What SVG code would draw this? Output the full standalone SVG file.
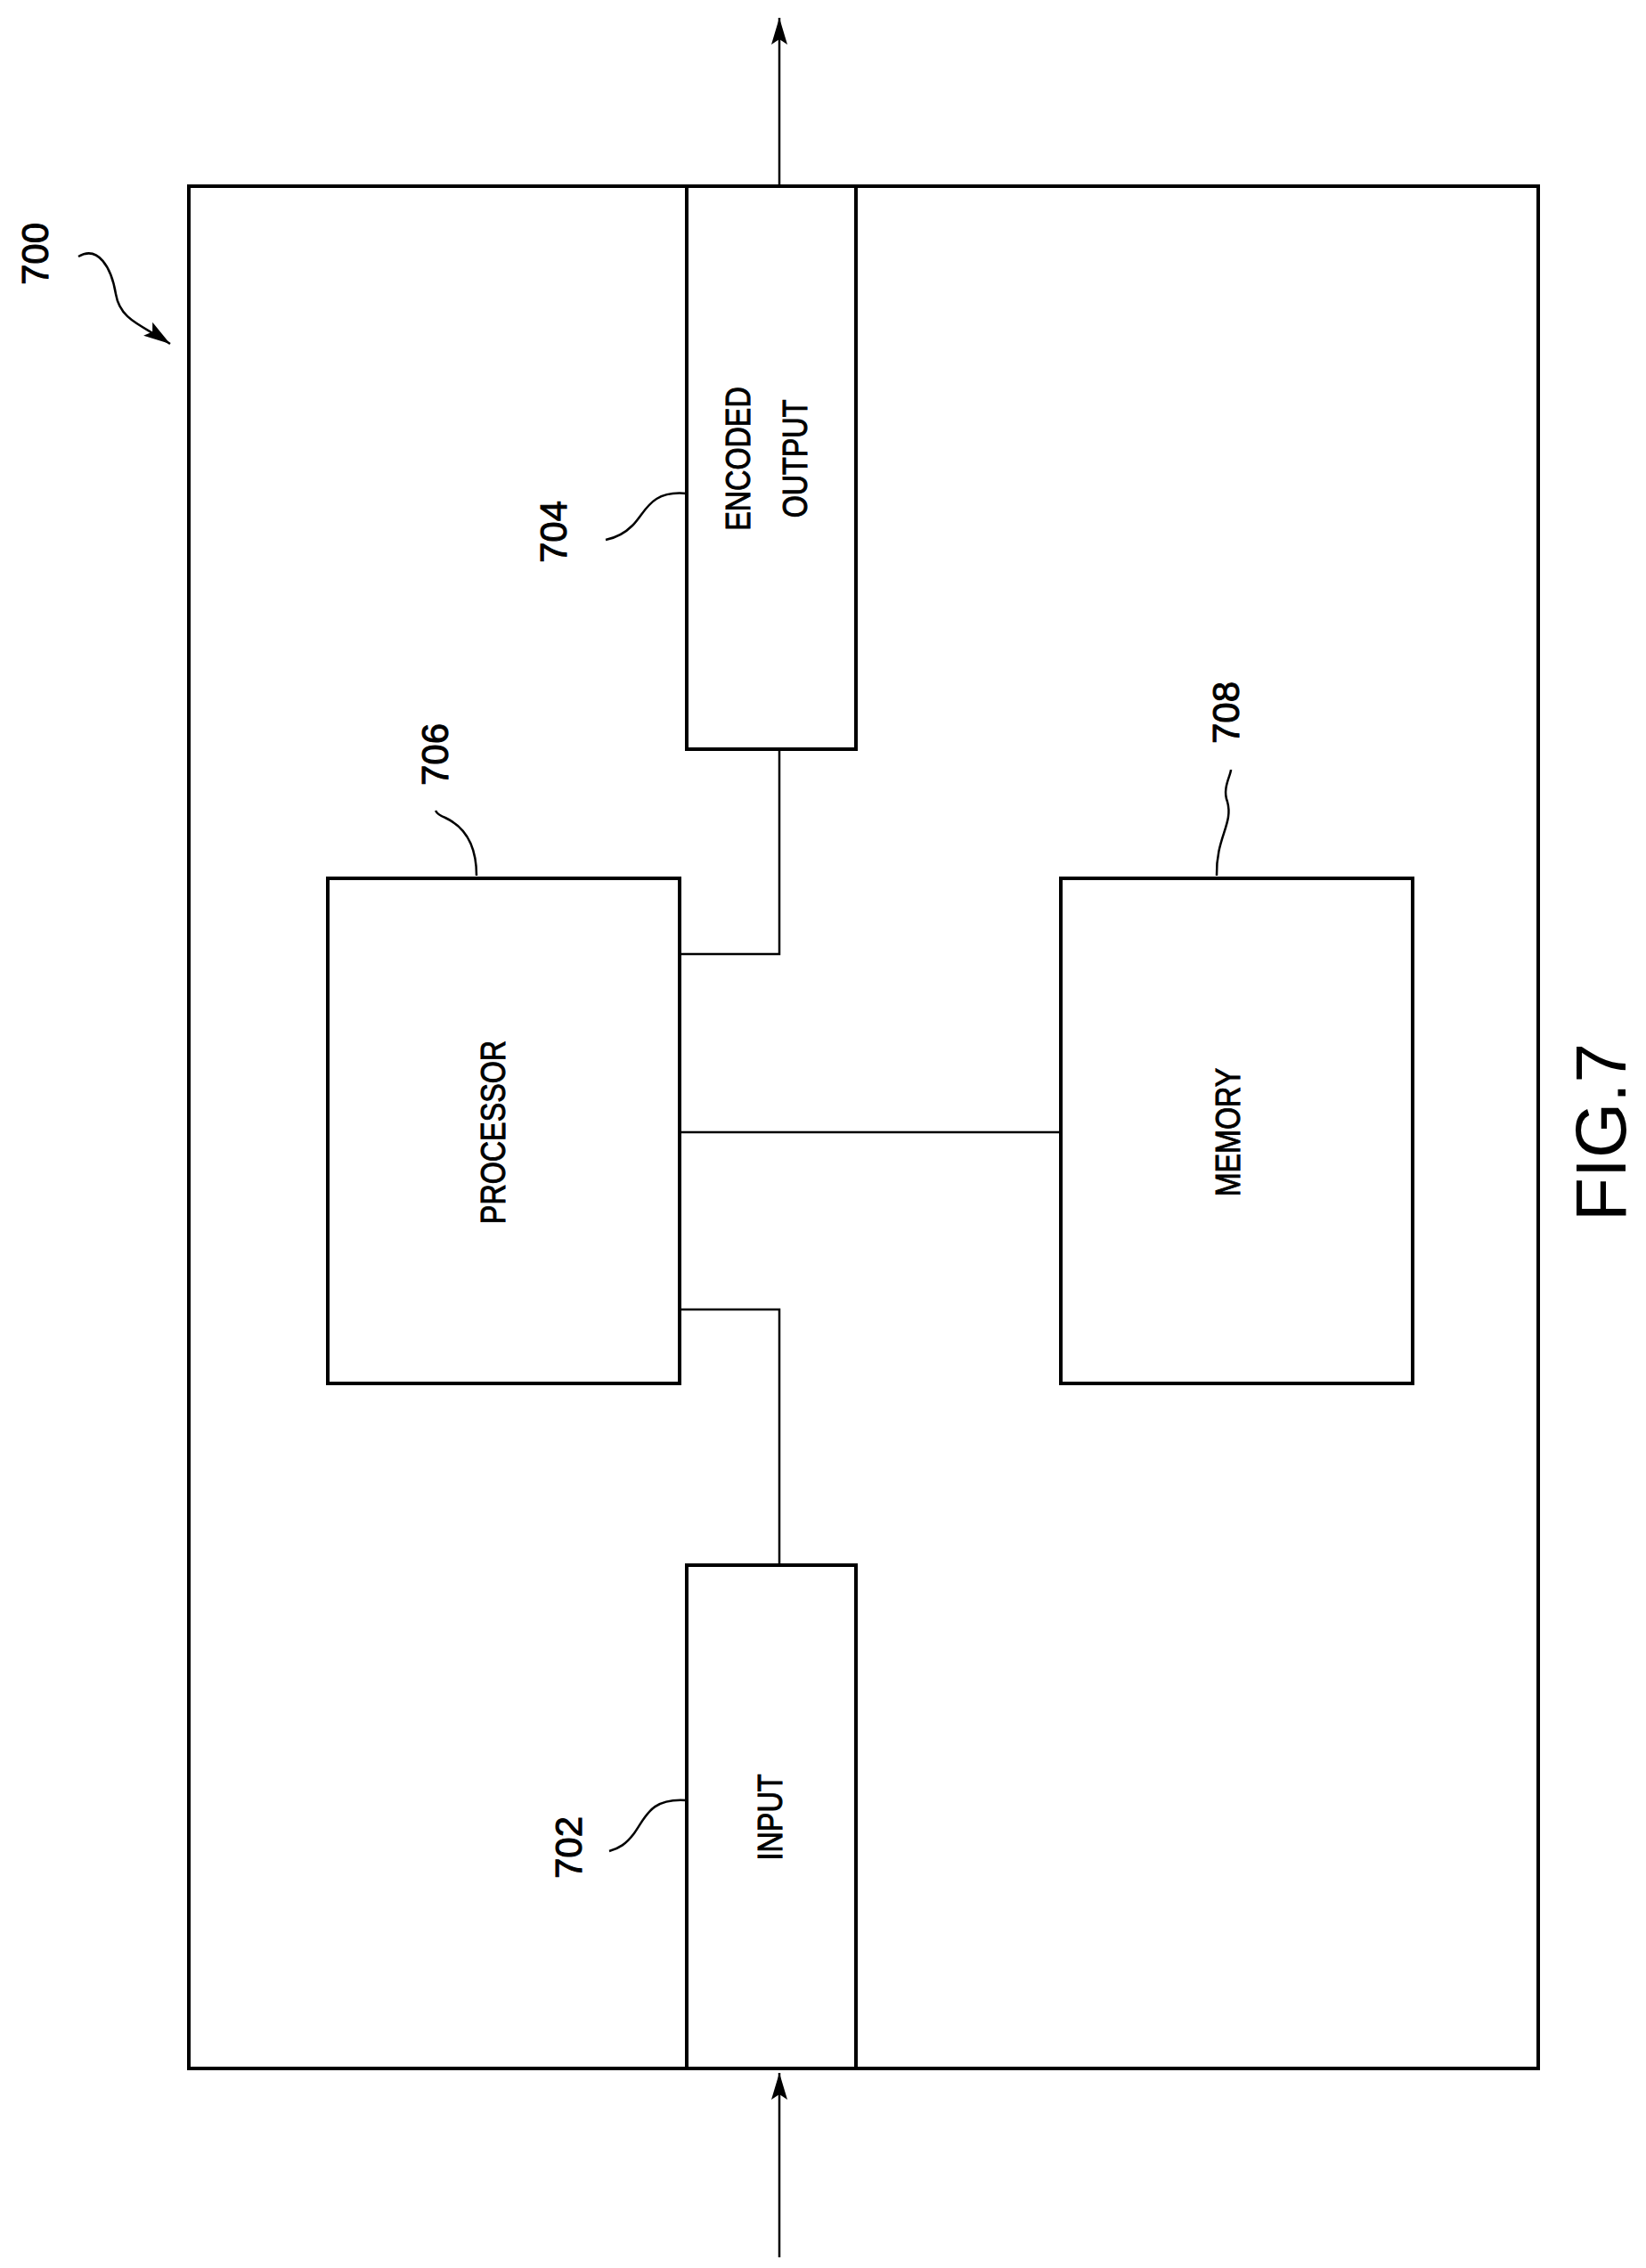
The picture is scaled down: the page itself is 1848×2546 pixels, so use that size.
<svg xmlns="http://www.w3.org/2000/svg" width="1848" height="2546" viewBox="0 0 1848 2546">
<style>
.b{fill:none;stroke:#000;stroke-width:4}
.l{fill:none;stroke:#000;stroke-width:2.5}
text{font-family:"Liberation Sans Narrow","Liberation Sans",sans-serif;font-size:38px;fill:#000;text-anchor:middle;stroke:#000;stroke-width:1}
</style>
<defs>
<marker id="A" markerWidth="30" markerHeight="18" refX="30" refY="9" orient="auto" markerUnits="userSpaceOnUse"><path d="M0,0 L30,9 L0,18 L6,9 z" fill="#000"/></marker></defs>
<rect x="212" y="209" width="1515" height="2113" class="b"/>
<g id="n704"><rect x="771" y="209" width="190" height="632" class="b"/><text transform="translate(842,515) rotate(-90) scale(0.85,1)">ENCODED</text><text transform="translate(906,515) rotate(-90) scale(0.85,1)">OUTPUT</text></g>
<g id="n702"><rect x="771" y="1757" width="190" height="565" class="b"/><text transform="translate(878,2040) rotate(-90) scale(0.85,1)">INPUT</text></g>
<g id="n706"><rect x="368" y="986" width="395" height="567" class="b"/><text transform="translate(567,1271) rotate(-90) scale(0.85,1)">PROCESSOR</text></g>
<g id="n708"><rect x="1191" y="986" width="395" height="567" class="b"/><text transform="translate(1392,1271) rotate(-90) scale(0.85,1)">MEMORY</text></g>
<g id="connectors">
<path class="l" d="M763,1071 H875 V841"/>
<path class="l" d="M763,1271 H1191"/>
<path class="l" d="M763,1470 H875 V1757"/>
<path class="l" d="M875,209 V20" marker-end="url(#A)"/>
<path class="l" d="M875,2534 V2327" marker-end="url(#A)"/>
</g>
<g id="labels">
<text transform="translate(54,285) rotate(-90)" style="font-size:42px">700</text>
<path class="l" d="M88,288 C110,275 125,300 130,330 C135,360 160,365 191,386" marker-end="url(#A)"/>
<text transform="translate(636,597) rotate(-90)" style="font-size:42px">704</text>
<path class="l" d="M771,554 C730,550 725,575 710,590 C700,600 690,604 680,606"/>
<text transform="translate(503,847) rotate(-90)" style="font-size:42px">706</text>
<path class="l" d="M535,983 C535,940 515,925 500,918 C492,915 490,912 489,910"/>
<text transform="translate(1391,800) rotate(-90)" style="font-size:42px">708</text>
<path class="l" d="M1366,983 C1365,940 1385,925 1378,900 C1372,885 1382,870 1382,864"/>
<text transform="translate(653,2074) rotate(-90)" style="font-size:42px">702</text>
<path class="l" d="M771,2021 C730,2018 725,2040 712,2058 C703,2070 695,2075 684,2078"/>
<text transform="translate(1825,1271) rotate(-90)" style="font-family:'Liberation Sans',sans-serif;font-size:80px;stroke-width:0">FIG.7</text>
</g>
</svg>
